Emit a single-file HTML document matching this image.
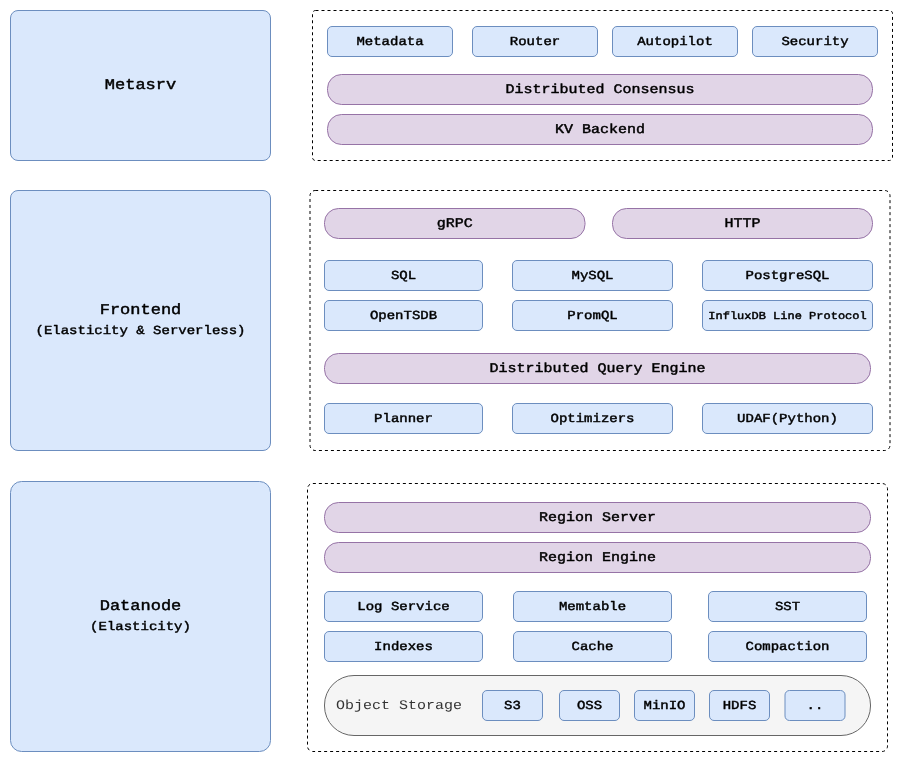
<!DOCTYPE html>
<html lang="en">
<head>
<meta charset="utf-8">
<title>GreptimeDB Architecture</title>
<style>
html,body{margin:0;padding:0;background:#fff;}
body{width:903px;height:762px;overflow:hidden;}
svg{display:block;will-change:transform;}
text{font-family:"Liberation Mono","DejaVu Sans Mono",monospace;font-weight:normal;fill:#000;stroke:#000;stroke-width:0.5px;stroke-linejoin:round;text-anchor:middle;text-rendering:geometricPrecision;}
.t17{font-size:17px;}
.t15{font-size:15px;}
.t14{font-size:14px;}
.t12{font-size:12px;}
.obj{font-size:15px;font-weight:normal;fill:#333;stroke:none;text-anchor:start;}
</style>
</head>
<body>
<svg width="903" height="762" viewBox="0 0 903 762">
<rect x="10.5" y="10.5" width="260" height="150" rx="7.5" ry="7.5" fill="#dae8fc" stroke="#6c8ebf"/>
<text transform="translate(140.5 88.6) scale(1 0.88)" class="t17">Metasrv</text>
<rect x="10.5" y="190.5" width="260" height="260" rx="7.5" ry="7.5" fill="#dae8fc" stroke="#6c8ebf"/>
<text transform="translate(140.5 314) scale(1 0.88)" class="t17">Frontend</text>
<text transform="translate(140.5 334.2) scale(1 0.88)" class="t14">(Elasticity &amp; Serverless)</text>
<rect x="10.5" y="481.5" width="260" height="270" rx="11" ry="11" fill="#dae8fc" stroke="#6c8ebf"/>
<text transform="translate(140.5 610) scale(1 0.88)" class="t17">Datanode</text>
<text transform="translate(140.5 630.2) scale(1 0.88)" class="t14">(Elasticity)</text>
<rect x="312.5" y="10.5" width="580" height="150" rx="3" ry="3" fill="none" stroke="#000" stroke-dasharray="3 3"/>
<rect x="327.5" y="26.5" width="125" height="30" rx="4.5" ry="4.5" fill="#dae8fc" stroke="#6c8ebf"/>
<text transform="translate(390.0 44.9) scale(1 0.88)" class="t14">Metadata</text>
<rect x="472.5" y="26.5" width="125" height="30" rx="4.5" ry="4.5" fill="#dae8fc" stroke="#6c8ebf"/>
<text transform="translate(535.0 44.9) scale(1 0.88)" class="t14">Router</text>
<rect x="612.5" y="26.5" width="125" height="30" rx="4.5" ry="4.5" fill="#dae8fc" stroke="#6c8ebf"/>
<text transform="translate(675.0 44.9) scale(1 0.88)" class="t14">Autopilot</text>
<rect x="752.5" y="26.5" width="125" height="30" rx="4.5" ry="4.5" fill="#dae8fc" stroke="#6c8ebf"/>
<text transform="translate(815.0 44.9) scale(1 0.88)" class="t14">Security</text>
<rect x="327.5" y="74.5" width="545" height="30" rx="14" ry="14" fill="#e1d5e7" stroke="#9673a6"/>
<text transform="translate(600.0 92.8) scale(1 0.88)" class="t15">Distributed Consensus</text>
<rect x="327.5" y="114.5" width="545" height="30" rx="14" ry="14" fill="#e1d5e7" stroke="#9673a6"/>
<text transform="translate(600.0 132.8) scale(1 0.88)" class="t15">KV Backend</text>
<rect x="310" y="190.5" width="580" height="260" rx="5.2" ry="5.2" fill="none" stroke="#000" stroke-dasharray="3 3"/>
<rect x="324.5" y="208.5" width="260.5" height="30" rx="14" ry="14" fill="#e1d5e7" stroke="#9673a6"/>
<text transform="translate(454.75 226.8) scale(1 0.88)" class="t15">gRPC</text>
<rect x="612.5" y="208.5" width="260" height="30" rx="14" ry="14" fill="#e1d5e7" stroke="#9673a6"/>
<text transform="translate(742.5 226.8) scale(1 0.88)" class="t15">HTTP</text>
<rect x="324.5" y="260.5" width="158" height="30" rx="4.5" ry="4.5" fill="#dae8fc" stroke="#6c8ebf"/>
<text transform="translate(403.5 278.9) scale(1 0.88)" class="t14">SQL</text>
<rect x="512.5" y="260.5" width="160" height="30" rx="4.5" ry="4.5" fill="#dae8fc" stroke="#6c8ebf"/>
<text transform="translate(592.5 278.9) scale(1 0.88)" class="t14">MySQL</text>
<rect x="702.5" y="260.5" width="170" height="30" rx="4.5" ry="4.5" fill="#dae8fc" stroke="#6c8ebf"/>
<text transform="translate(787.5 278.9) scale(1 0.88)" class="t14">PostgreSQL</text>
<rect x="324.5" y="300.5" width="158" height="30" rx="4.5" ry="4.5" fill="#dae8fc" stroke="#6c8ebf"/>
<text transform="translate(403.5 318.9) scale(1 0.88)" class="t14">OpenTSDB</text>
<rect x="512.5" y="300.5" width="160" height="30" rx="4.5" ry="4.5" fill="#dae8fc" stroke="#6c8ebf"/>
<text transform="translate(592.5 318.9) scale(1 0.88)" class="t14">PromQL</text>
<rect x="702.5" y="300.5" width="170" height="30" rx="4.5" ry="4.5" fill="#dae8fc" stroke="#6c8ebf"/>
<text transform="translate(787.5 318.8) scale(1 0.88)" class="t12">InfluxDB Line Protocol</text>
<rect x="324.5" y="353.5" width="546" height="30" rx="14" ry="14" fill="#e1d5e7" stroke="#9673a6"/>
<text transform="translate(597.5 371.8) scale(1 0.88)" class="t15">Distributed Query Engine</text>
<rect x="324.5" y="403.5" width="158" height="30" rx="4.5" ry="4.5" fill="#dae8fc" stroke="#6c8ebf"/>
<text transform="translate(403.5 421.9) scale(1 0.88)" class="t14">Planner</text>
<rect x="512.5" y="403.5" width="160" height="30" rx="4.5" ry="4.5" fill="#dae8fc" stroke="#6c8ebf"/>
<text transform="translate(592.5 421.9) scale(1 0.88)" class="t14">Optimizers</text>
<rect x="702.5" y="403.5" width="170" height="30" rx="4.5" ry="4.5" fill="#dae8fc" stroke="#6c8ebf"/>
<text transform="translate(787.5 421.9) scale(1 0.88)" class="t14">UDAF(Python)</text>
<rect x="307.5" y="483.5" width="580" height="268" rx="5.36" ry="5.36" fill="none" stroke="#000" stroke-dasharray="3 3"/>
<rect x="324.5" y="502.5" width="546" height="30" rx="14" ry="14" fill="#e1d5e7" stroke="#9673a6"/>
<text transform="translate(597.5 520.8) scale(1 0.88)" class="t15">Region Server</text>
<rect x="324.5" y="542.5" width="546" height="30" rx="14" ry="14" fill="#e1d5e7" stroke="#9673a6"/>
<text transform="translate(597.5 560.8) scale(1 0.88)" class="t15">Region Engine</text>
<rect x="324.5" y="591.5" width="158" height="30" rx="4.5" ry="4.5" fill="#dae8fc" stroke="#6c8ebf"/>
<text transform="translate(403.5 609.9) scale(1 0.88)" class="t14">Log Service</text>
<rect x="513.5" y="591.5" width="158" height="30" rx="4.5" ry="4.5" fill="#dae8fc" stroke="#6c8ebf"/>
<text transform="translate(592.5 609.9) scale(1 0.88)" class="t14">Memtable</text>
<rect x="708.5" y="591.5" width="158" height="30" rx="4.5" ry="4.5" fill="#dae8fc" stroke="#6c8ebf"/>
<text transform="translate(787.5 609.9) scale(1 0.88)" class="t14">SST</text>
<rect x="324.5" y="631.5" width="158" height="30" rx="4.5" ry="4.5" fill="#dae8fc" stroke="#6c8ebf"/>
<text transform="translate(403.5 649.9) scale(1 0.88)" class="t14">Indexes</text>
<rect x="513.5" y="631.5" width="158" height="30" rx="4.5" ry="4.5" fill="#dae8fc" stroke="#6c8ebf"/>
<text transform="translate(592.5 649.9) scale(1 0.88)" class="t14">Cache</text>
<rect x="708.5" y="631.5" width="158" height="30" rx="4.5" ry="4.5" fill="#dae8fc" stroke="#6c8ebf"/>
<text transform="translate(787.5 649.9) scale(1 0.88)" class="t14">Compaction</text>
<rect x="324.5" y="675.5" width="546" height="60" rx="29.5" ry="29.5" fill="#f5f5f5" stroke="#666666"/>
<text transform="translate(336 709) scale(1 0.88)" class="obj">Object Storage</text>
<rect x="482.5" y="690.5" width="60" height="30" rx="4.5" ry="4.5" fill="#dae8fc" stroke="#6c8ebf"/>
<text transform="translate(512.5 708.9) scale(1 0.88)" class="t14">S3</text>
<rect x="559.5" y="690.5" width="60" height="30" rx="4.5" ry="4.5" fill="#dae8fc" stroke="#6c8ebf"/>
<text transform="translate(589.5 708.9) scale(1 0.88)" class="t14">OSS</text>
<rect x="634.5" y="690.5" width="60" height="30" rx="4.5" ry="4.5" fill="#dae8fc" stroke="#6c8ebf"/>
<text transform="translate(664.5 708.9) scale(1 0.88)" class="t14">MinIO</text>
<rect x="709.5" y="690.5" width="60" height="30" rx="4.5" ry="4.5" fill="#dae8fc" stroke="#6c8ebf"/>
<text transform="translate(739.5 708.9) scale(1 0.88)" class="t14">HDFS</text>
<rect x="785" y="690.5" width="60" height="30" rx="4.5" ry="4.5" fill="#dae8fc" stroke="#6c8ebf"/>
<text transform="translate(815.0 708.9) scale(1 0.88)" class="t14">..</text>
</svg>
</body>
</html>
